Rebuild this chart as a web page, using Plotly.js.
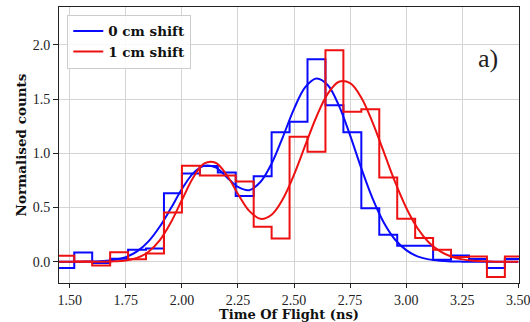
<!DOCTYPE html>
<html>
<head>
<meta charset="utf-8">
<script src="https://cdn.plot.ly/plotly-3.0.1.min.js"></script>
<style>html,body{margin:0;padding:0;background:#fff;}#chart{width:530px;height:322px;}</style>
</head>
<body>
<div id="chart"></div>
<script>
// Histogram bin edges (ns) and normalised counts per bin
const binEdges = [1.44,1.52,1.60,1.68,1.76,1.84,1.92,2.00,2.08,2.16,2.24,2.32,2.40,2.48,2.56,2.64,2.72,2.80,2.88,2.96,3.04,3.12,3.20,3.28,3.36,3.44,3.52];
const hist0cm = [-0.058,0.086,-0.012,0.028,0.110,0.122,0.632,0.813,0.883,0.822,0.607,0.788,1.193,1.290,1.867,1.444,1.193,0.494,0.248,0.147,0.147,0.018,0.058,0.025,-0.058,0.025];
const hist1cm = [0.055,0.003,-0.034,0.088,0.022,0.075,0.454,0.886,0.795,0.795,0.739,0.322,0.215,1.153,1.015,1.950,1.383,1.407,0.776,0.396,0.218,0.110,0.043,0.049,-0.141,0.049];

// Fitted curves
const fitX = [1.45,1.50,1.55,1.60,1.65,1.70,1.75,1.80,1.85,1.90,1.95,2.00,2.05,2.10,2.15,2.20,2.25,2.30,2.35,2.40,2.45,2.50,2.55,2.60,2.65,2.70,2.75,2.80,2.85,2.90,2.95,3.00,3.05,3.10,3.15,3.20,3.25,3.30,3.35,3.40,3.45,3.50];
const fit0cm = [0.000,0.000,0.001,0.002,0.006,0.018,0.043,0.095,0.185,0.320,0.490,0.670,0.815,0.885,0.870,0.780,0.690,0.660,0.735,0.905,1.150,1.410,1.610,1.690,1.630,1.440,1.165,0.861,0.584,0.362,0.205,0.107,0.050,0.022,0.009,0.003,0.001,0.000,0.000,0.000,0.000,0.000];
const fit1cm = [0.000,0.000,0.000,0.000,0.001,0.004,0.012,0.036,0.090,0.194,0.359,0.569,0.774,0.907,0.913,0.800,0.624,0.469,0.396,0.434,0.578,0.803,1.073,1.337,1.548,1.660,1.647,1.513,1.286,1.013,0.738,0.498,0.311,0.180,0.097,0.048,0.022,0.009,0.004,0.001,0.000,0.000];

const seriesNames = ['0 cm shift','1 cm shift'];
const BLUE = '#0a0aff', RED = '#ee1111';

function stepY(vals){ return vals.concat([vals[vals.length-1]]); }

const traces = [
  {x: binEdges, y: stepY(hist0cm), mode:'lines', line:{shape:'hv', color:BLUE, width:2}, showlegend:false, hoverinfo:'skip'},
  {x: fitX, y: fit0cm, mode:'lines', name: seriesNames[0], line:{shape:'spline', color:BLUE, width:2}},
  {x: binEdges, y: stepY(hist1cm), mode:'lines', line:{shape:'hv', color:RED, width:2}, showlegend:false, hoverinfo:'skip'},
  {x: fitX, y: fit1cm, mode:'lines', name: seriesNames[1], line:{shape:'spline', color:RED, width:2}}
];

const tickFont = {family:'"Liberation Serif", serif', size:14, color:'#222'};
const boldFont = {family:'"DejaVu Serif", serif', size:13, color:'#111', weight:'bold'};
const legendFont = {family:'"DejaVu Serif", serif', size:13.5, color:'#111', weight:'bold'};

const layout = {
  width:530, height:322,
  margin:{l:59, r:11, t:7, b:39, pad:0},
  paper_bgcolor:'#fff', plot_bgcolor:'#fff',
  showlegend:true,
  legend:{x:0.018, y:0.972, xanchor:'left', yanchor:'top', bgcolor:'rgba(255,255,255,0.85)', bordercolor:'#cccccc', borderwidth:1,
          font:legendFont, itemwidth:30, tracegroupgap:0},
  xaxis:{range:[1.452,3.503], tick0:1.5, dtick:0.25, tickformat:'.2f', showgrid:true, gridcolor:'#d4d4d4', gridwidth:1,
         zeroline:false, showline:true, linecolor:'#222', linewidth:1, mirror:true, ticks:'outside', ticklen:4, tickcolor:'#222',
         ticklabeloverflow:'allow', tickfont:tickFont, title:{text:'<b>Time Of Flight (ns)</b>', font:boldFont, standoff:3}},
  yaxis:{range:[-0.196,2.349], tick0:0, dtick:0.5, tickformat:'.1f', showgrid:true, gridcolor:'#d4d4d4', gridwidth:1,
         zeroline:false, showline:true, linecolor:'#222', linewidth:1, mirror:true, ticks:'outside', ticklen:5, tickcolor:'#222',
         tickfont:tickFont, title:{text:'<b>Normalised counts</b>', font:{family:'"DejaVu Serif", serif', size:13.5, color:'#111', weight:'bold'}, standoff:2}},
  annotations:[{x:3.363, y:1.878, xref:'x', yref:'y', text:'a)', showarrow:false, font:{family:'"Liberation Serif", serif', size:26, color:'#222'}}]
};

Plotly.newPlot('chart', traces, layout, {staticPlot:true, displayModeBar:false});
</script>
</body>
</html>
